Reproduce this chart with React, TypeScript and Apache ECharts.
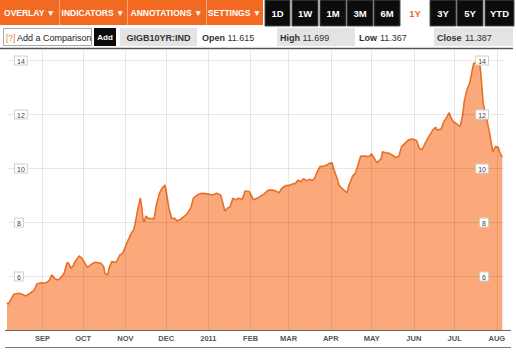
import { useEffect, useRef } from 'react';
import * as echarts from 'echarts';

const dates = [
  '2010-08-06', '2010-08-07', '2010-08-11', '2010-08-15', '2010-08-18', '2010-08-20', '2010-08-23', '2010-08-26', '2010-08-28', '2010-08-31',
  '2010-09-03', '2010-09-06', '2010-09-08', '2010-09-10', '2010-09-12', '2010-09-14', '2010-09-17', '2010-09-19', '2010-09-20', '2010-09-22',
  '2010-09-24', '2010-09-25', '2010-09-28', '2010-09-30', '2010-10-03', '2010-10-04', '2010-10-08', '2010-10-10', '2010-10-14', '2010-10-16',
  '2010-10-17', '2010-10-19', '2010-10-20', '2010-10-22', '2010-10-25', '2010-10-26', '2010-10-28', '2010-10-30', '2010-11-01', '2010-11-03',
  '2010-11-06', '2010-11-07', '2010-11-08', '2010-11-10', '2010-11-12', '2010-11-13', '2010-11-14', '2010-11-15', '2010-11-16', '2010-11-18',
  '2010-11-21', '2010-11-22', '2010-11-24', '2010-11-26', '2010-11-28', '2010-11-30', '2010-12-01', '2010-12-03', '2010-12-05', '2010-12-07',
  '2010-12-09', '2010-12-11', '2010-12-14', '2010-12-16', '2010-12-19', '2010-12-21', '2010-12-24', '2010-12-27', '2010-12-31', '2011-01-04',
  '2011-01-07', '2011-01-10', '2011-01-12', '2011-01-13', '2011-01-15', '2011-01-17', '2011-01-19', '2011-01-21', '2011-01-23', '2011-01-26',
  '2011-01-28', '2011-01-31', '2011-02-02', '2011-02-03', '2011-02-07', '2011-02-11', '2011-02-14', '2011-02-17', '2011-02-19', '2011-02-22',
  '2011-02-24', '2011-02-27', '2011-03-01', '2011-03-04', '2011-03-06', '2011-03-08', '2011-03-10', '2011-03-12', '2011-03-14', '2011-03-17',
  '2011-03-18', '2011-03-20', '2011-03-22', '2011-03-24', '2011-03-27', '2011-03-29', '2011-03-31', '2011-04-02', '2011-04-03', '2011-04-06',
  '2011-04-07', '2011-04-09', '2011-04-13', '2011-04-14', '2011-04-17', '2011-04-19', '2011-04-23', '2011-04-25', '2011-04-29', '2011-05-01',
  '2011-05-03', '2011-05-05', '2011-05-08', '2011-05-09', '2011-05-11', '2011-05-14', '2011-05-16', '2011-05-19', '2011-05-21', '2011-05-23',
  '2011-05-26', '2011-05-28', '2011-05-31', '2011-06-03', '2011-06-05', '2011-06-07', '2011-06-10', '2011-06-12', '2011-06-15', '2011-06-17',
  '2011-06-18', '2011-06-21', '2011-06-23', '2011-06-24', '2011-06-27', '2011-06-28', '2011-06-30', '2011-07-03', '2011-07-05', '2011-07-07',
  '2011-07-08', '2011-07-10', '2011-07-12', '2011-07-14', '2011-07-15', '2011-07-17', '2011-07-19', '2011-07-20', '2011-07-21', '2011-07-22',
  '2011-07-25', '2011-07-27', '2011-07-29', '2011-07-31', '2011-08-02', '2011-08-03', '2011-08-05',
];

const yields = [
  5.02, 4.98, 5.34, 5.38, 5.32, 5.28, 5.38, 5.50, 5.72, 5.77,
  5.75, 5.85, 6.06, 5.93, 5.87, 5.93, 6.12, 6.49, 6.52, 6.30,
  6.43, 6.55, 6.76, 6.68, 6.43, 6.34, 6.49, 6.53, 6.49, 6.37,
  6.12, 6.06, 6.30, 6.55, 6.52, 6.61, 6.80, 6.86, 7.10, 7.35,
  7.66, 7.72, 7.90, 8.46, 8.90, 8.59, 8.09, 8.03, 8.24, 8.15,
  8.15, 8.12, 8.71, 9.08, 9.27, 9.39, 9.15, 8.53, 8.15, 8.16,
  8.06, 8.10, 8.22, 8.30, 8.53, 8.90, 9.02, 9.08, 9.06, 9.02,
  9.08, 9.02, 8.65, 8.43, 8.53, 8.59, 8.90, 8.84, 8.90, 8.86,
  9.17, 9.15, 8.96, 8.84, 8.93, 9.06, 9.20, 9.20, 9.18, 9.10,
  9.27, 9.37, 9.37, 9.43, 9.45, 9.57, 9.51, 9.63, 9.55, 9.60,
  9.55, 9.63, 9.88, 10.07, 10.09, 10.13, 10.19, 10.21, 10.00, 9.57,
  9.39, 9.27, 9.10, 9.33, 9.72, 9.82, 10.46, 10.46, 10.44, 10.54,
  10.37, 10.21, 10.37, 10.62, 10.58, 10.56, 10.50, 10.41, 10.46, 10.81,
  10.96, 11.06, 11.09, 11.04, 10.75, 10.69, 11.00, 11.18, 11.43, 11.53,
  11.43, 11.46, 11.73, 11.80, 12.07, 11.91, 11.73, 11.64, 11.55, 12.00,
  12.48, 12.91, 13.16, 13.65, 13.90, 13.93, 14.02, 13.65, 13.03, 12.41,
  11.73, 11.24, 10.62, 10.81, 10.79, 10.62, 10.41,
];

const monthNames = ['JAN', 'FEB', 'MAR', 'APR', 'MAY', 'JUN', 'JUL', 'AUG', 'SEP', 'OCT', 'NOV', 'DEC'];
const monthStarts = [
  '2010-09-01', '2010-10-01', '2010-11-01', '2010-12-01', '2011-01-01', '2011-02-01',
  '2011-03-01', '2011-04-01', '2011-05-01', '2011-06-01', '2011-07-01', '2011-08-01',
];
const yTickLabels = [6, 8, 10, 12, 14];
const menuButtons = ['OVERLAY ▼', 'INDICATORS ▼', 'ANNOTATIONS ▼', 'SETTINGS ▼'];
const rangeButtons = ['1D', '1W', '1M', '3M', '6M', '1Y', '3Y', '5Y', 'YTD'];
const activeRange = '1Y';
const tickerName = 'GIGB10YR:IND';
const quoteLabels = ['Open', 'High', 'Low', 'Close'];
const quoteValues = ['11.615', '11.699', '11.367', '11.387'];

const FONT = '"Liberation Sans", Arial, sans-serif';
const ORANGE = '#F26A21';
const GRID_COLOR = 'rgba(0,0,0,0.09)';

function txt(x: number, y: number, text: string, opts: any = {}) {
  const align = opts.align || 'left';
  return {
    type: 'text',
    x,
    y,
    z: 20,
    style: {
      text,
      fill: opts.fill || '#222',
      fontSize: opts.size || 9,
      fontWeight: opts.bold ? 'bold' : 'normal',
      fontFamily: FONT,
      align,
      textAlign: align,
      verticalAlign: 'middle',
      textVerticalAlign: 'middle',
    },
  };
}

function rect(x: number, y: number, w: number, h: number, fill: string, stroke?: string) {
  return {
    type: 'rect',
    z: 15,
    shape: { x, y, width: w, height: h },
    style: { fill, stroke: stroke || 'none', lineWidth: 1 },
  };
}

function hline(x1: number, x2: number, y: number, color: string, w = 1) {
  return {
    type: 'line',
    z: 15,
    shape: { x1, y1: y, x2, y2: y },
    style: { stroke: color, lineWidth: w },
  };
}

function buildGraphics() {
  const g: any[] = [];
  g.push(rect(0, 0, 263, 25, ORANGE));
  const menuBoxes = [[0, 59], [59, 127], [127, 206], [206, 263]];
  menuButtons.forEach((m, i) => {
    const [a, b] = menuBoxes[i];
    if (i > 0) g.push({ type: 'line', z: 16, shape: { x1: a + 0.5, y1: 0, x2: a + 0.5, y2: 25 }, style: { stroke: '#F9A673', lineWidth: 1 } });
    g.push(txt((a + b) / 2, 13, m, { fill: '#fff', bold: true, size: 8.5, align: 'center' }));
  });
  const rangeX = [265, 292, 320, 347, 374, 402, 430, 457, 485];
  const rangeW = [25, 26, 26, 26, 26, 26, 26, 26, 29];
  rangeButtons.forEach((r, i) => {
    const x = rangeX[i];
    const w = rangeW[i];
    if (r !== activeRange) {
      g.push(rect(x, 0, w, 26, '#0c0c0c', '#4d4d4d'));
      g.push(txt(x + w / 2, 13.5, r, { fill: '#fff', bold: true, size: 9.5, align: 'center' }));
    } else {
      g.push(txt(x + w / 2, 13.5, r, { fill: ORANGE, bold: true, size: 9.5, align: 'center' }));
    }
  });
  g.push(rect(3.5, 28.5, 88, 17, '#fff', '#a9a9a9'));
  g.push(txt(6, 37.5, '[?]', { fill: '#E8812F', size: 8.5 }));
  g.push(txt(17, 37.5, 'Add a Comparison', { fill: '#222', size: 9 }));
  g.push(rect(94, 28, 22, 18, '#0c0c0c'));
  g.push(txt(105, 37.5, 'Add', { fill: '#fff', bold: true, size: 8, align: 'center' }));
  g.push(rect(120, 28, 77, 18, '#e4e4e4'));
  g.push(txt(158.5, 37.5, tickerName, { fill: '#333', bold: true, size: 9, align: 'center' }));
  const quoteBg = [false, true, false, true];
  const quoteBox = [[199, 260], [277, 355], [356, 433], [434, 513]];
  const labelX = [202, 280, 359, 437];
  const valueX = [227.5, 302.5, 380, 465];
  quoteLabels.forEach((l, i) => {
    if (quoteBg[i]) g.push(rect(quoteBox[i][0], 28, quoteBox[i][1] - quoteBox[i][0], 18, '#e4e4e4'));
    g.push(txt(labelX[i], 37.5, l, { fill: '#333', bold: true, size: 9 }));
    g.push(txt(valueX[i], 37.5, quoteValues[i], { fill: '#333', size: 9 }));
  });
  g.push(hline(0, 513, 48.5, '#555', 1.5));
  g.push(hline(5, 511, 330.5, '#666', 1));
  g.push(hline(5, 511, 347.5, '#777', 1));
  return g;
}

export default function App() {
  const ref = useRef<HTMLDivElement>(null);
  useEffect(() => {
    if (!ref.current) return;
    document.body.style.margin = '0';
    const chart = echarts.init(ref.current, undefined, { renderer: 'svg' });
    const data = dates.map((d, i) => [d, yields[i]]);
    const xMin = +new Date(2010, 7, 6);
    const xMax = +new Date(2011, 7, 7);
    const yLabel = (v: number) =>
      yTickLabels.some((t) => Math.abs(t - v) < 1e-6) ? `{b|${Math.round(v)}}` : '';
    const labelRich = {
      b: {
        fontSize: 7,
        fontFamily: FONT,
        color: '#444',
        backgroundColor: '#fff',
        borderColor: '#cfcfcf',
        borderWidth: 1,
        padding: [1, 2, 0, 2],
      },
    };
    chart.setOption({
      animation: false,
      backgroundColor: '#fff',
      grid: { left: 7, top: 50, width: 498, height: 280.5, containLabel: false },
      xAxis: {
        type: 'time',
        min: xMin,
        max: xMax,
        splitNumber: 12,
        minInterval: 20 * 86400000,
        maxInterval: 31 * 86400000,
        z: 3,
        axisLine: { show: false },
        axisTick: { show: false },
        axisLabel: {
          margin: 4,
          fontSize: 7.5,
          fontWeight: 'bold',
          fontFamily: FONT,
          color: '#555',
          hideOverlap: false,
          formatter: (val: number) => {
            const d = new Date(val);
            if (d.getDate() !== 1 || d.getHours() !== 0) return '';
            return d.getMonth() === 0 ? String(d.getFullYear()) : monthNames[d.getMonth()];
          },
        },
        splitLine: { show: false },
      },
      yAxis: [
        {
          type: 'value',
          position: 'left',
          min: 4,
          max: 14.39,
          interval: 2,
          z: 3,
          axisLine: { show: false },
          axisTick: { show: false },
          axisLabel: { inside: true, margin: 8, formatter: yLabel, rich: labelRich },
          splitLine: {
            show: true,
            showMinLine: false,
            showMaxLine: false,
            lineStyle: { color: GRID_COLOR, width: 1 },
          },
        },
        {
          type: 'value',
          position: 'right',
          min: 4,
          max: 14.39,
          interval: 2,
          z: 3,
          axisLine: { show: false },
          axisTick: { show: false },
          axisLabel: { inside: true, margin: 17, formatter: yLabel, rich: labelRich },
          splitLine: { show: false },
        },
      ],
      series: [
        {
          type: 'line',
          data,
          yAxisIndex: 0,
          symbol: 'none',
          lineStyle: { color: '#E8702A', width: 1.6 },
          areaStyle: { color: '#FBA97B', opacity: 1, origin: 'start' },
          z: 2,
          markLine: {
            silent: true,
            symbol: ['none', 'none'],
            label: { show: false },
            lineStyle: { color: GRID_COLOR, type: 'solid', width: 1 },
            data: monthStarts.map((d) => ({ xAxis: d })),
          },
        },
      ],
      graphic: buildGraphics(),
    });
    return () => chart.dispose();
  }, []);
  return (
    <div
      ref={ref}
      style={{ position: 'absolute', left: 0, top: 0, width: 516, height: 353, background: '#fff' }}
    />
  );
}
